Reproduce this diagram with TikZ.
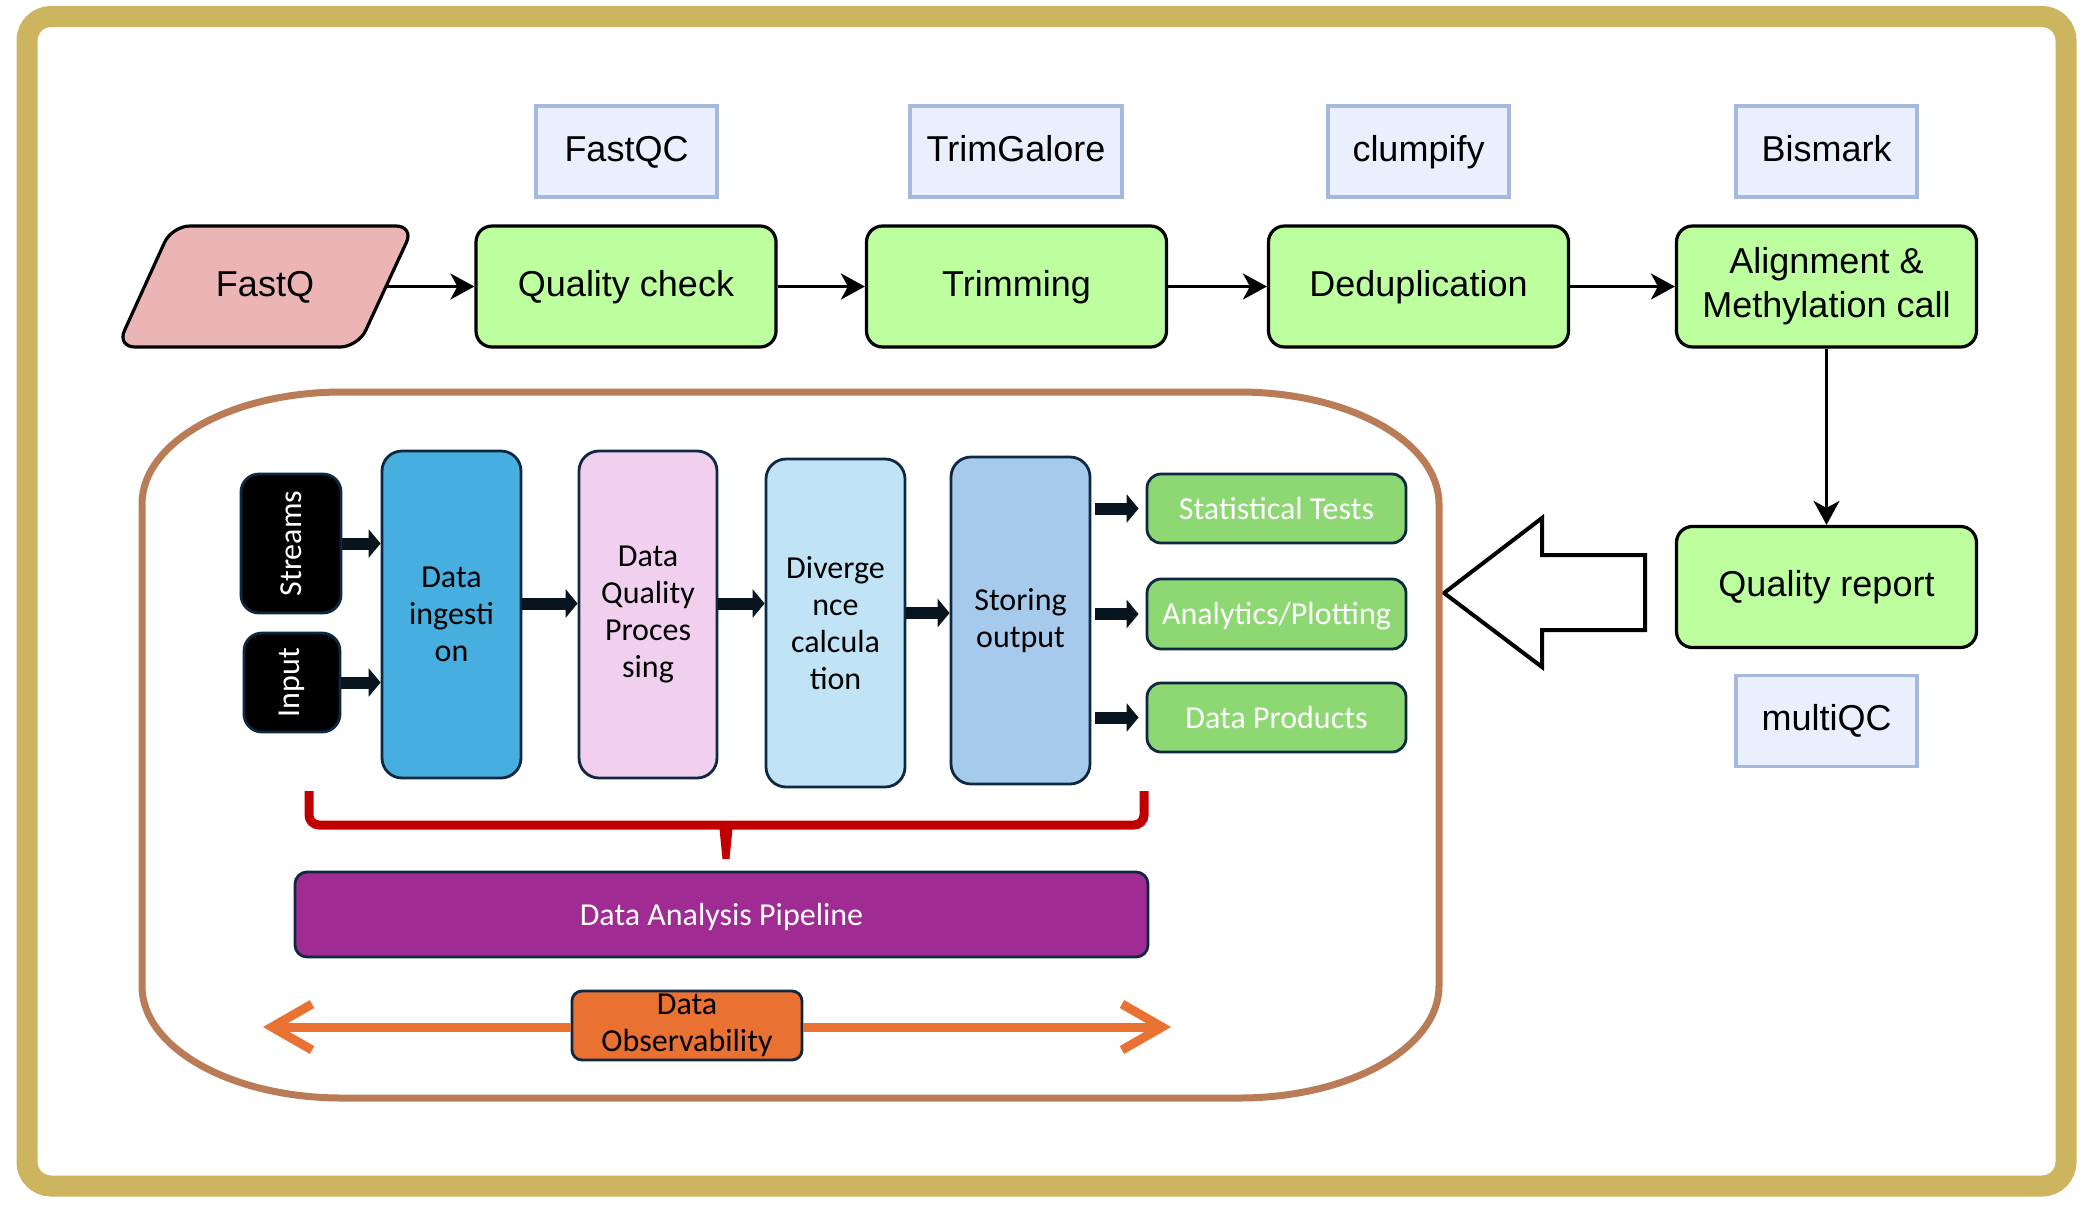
\documentclass[tikz,border=0pt]{standalone}
\usepackage{fontspec}
\setmainfont{Liberation Sans}
\newfontfamily\calfont{Carlito}
\usetikzlibrary{arrows.meta}
\definecolor{goldc}{RGB}{205,180,95}
\definecolor{brownc}{RGB}{186,123,87}
\definecolor{toolfill}{RGB}{233,239,252}
\definecolor{tooldraw}{RGB}{166,184,220}
\definecolor{stagegreen}{RGB}{189,255,158}
\definecolor{fastqfill}{RGB}{236,181,181}
\definecolor{navy}{RGB}{14,40,65}
\definecolor{ingestc}{RGB}{71,175,223}
\definecolor{dqpc}{RGB}{241,207,238}
\definecolor{divc}{RGB}{192,228,245}
\definecolor{storc}{RGB}{166,202,236}
\definecolor{outgreen}{RGB}{142,216,115}
\definecolor{purplec}{RGB}{160,43,147}
\definecolor{orangec}{RGB}{233,113,50}
\definecolor{bracered}{RGB}{192,0,0}
\definecolor{blkarrow}{RGB}{8,20,30}
\begin{document}
\begin{tikzpicture}[x=0.5pt,y=-0.5pt,
  toolbox/.style={draw=tooldraw, fill=toolfill, line width=1.6pt, minimum height=45.5pt, inner sep=0pt, text height=13pt, text depth=3.5pt, font=\fontsize{18pt}{22pt}\selectfont},
  stagebox/.style={draw=black, fill=stagegreen, line width=1.6pt, rounded corners=8pt, minimum width=150pt, minimum height=60.5pt, inner sep=0pt, align=center, font=\fontsize{18pt}{22pt}\selectfont},
  flow/.style={-{Stealth[length=12pt,width=13pt,inset=3.5pt]}, line width=1.4pt},
  tallbox/.style={draw=navy, line width=1.4pt, rounded corners=10pt, minimum width=69.5pt, minimum height=163.5pt, inner sep=0pt, align=center, font=\calfont\fontsize{16pt}{18.5pt}\selectfont},
  darkbox/.style={draw=navy, fill=black, text=white, line width=1.4pt, rounded corners=9pt, rotate=90, inner sep=0pt, font=\calfont\fontsize{16pt}{18.5pt}\selectfont},
  outbox/.style={draw=navy, fill=outgreen, text=white, line width=1.4pt, rounded corners=7pt, minimum width=129.5pt, minimum height=34.5pt, inner sep=0pt, text height=12.5pt, text depth=2pt, font=\calfont\fontsize{16pt}{18.5pt}\selectfont},
  blk/.style={draw=blkarrow, line width=6pt, -{Triangle[length=6pt,width=14pt]}},
  obsarrow/.style={draw=orangec, line width=4.5pt, -{Straight Barb[length=20pt,width=23pt]}}
]
\useasboundingbox (0,0) rectangle (2086,1211);
\fill[white] (0,0) rectangle (2086,1211);
% outer gold frame
\draw[goldc, line width=10.5pt, rounded corners=12pt] (27,16.5) rectangle (2066,1186);

% tool boxes
\node[toolbox, minimum width=90.5pt] (fastqc) at (626.5,151.5) {FastQC};
\node[toolbox, minimum width=106pt] (trimgalore) at (1016,151.5) {TrimGalore};
\node[toolbox, minimum width=90.5pt] (clumpify) at (1418.5,151.5) {clumpify};
\node[toolbox, minimum width=90.5pt] (bismark) at (1826.5,151.5) {Bismark};
\node[toolbox, minimum width=90.5pt] (multiqc) at (1826.5,721) {multiQC};

% FastQ parallelogram
\draw[fill=fastqfill, line width=1.6pt, rounded corners=9pt] (172,226) -- (414,226) -- (358,347) -- (117,347) -- cycle;
\node[font=\fontsize{18pt}{22pt}\selectfont, text height=13pt, text depth=3.5pt, inner sep=0pt] (fastq) at (265,286.5) {FastQ};
\coordinate (fastqR) at (386,286.5);

% stage boxes
\node[stagebox, text height=13pt, text depth=3.5pt] (qc) at (626,286.5) {Quality check};
\node[stagebox, text height=13pt, text depth=3.5pt] (trim) at (1016.5,286.5) {Trimming};
\node[stagebox, text height=13pt, text depth=3.5pt] (dedup) at (1418.5,286.5) {Deduplication};
\node[stagebox] (align) at (1826.5,286.5) {Alignment \&\\Methylation call};
\node[stagebox, text height=13pt, text depth=3.5pt] (qreport) at (1826.5,587) {Quality report};

\draw[flow] (fastqR) -- (qc.west);
\draw[flow] (qc.east) -- (trim.west);
\draw[flow] (trim.east) -- (dedup.west);
\draw[flow] (dedup.east) -- (align.west);
\draw[flow] (align.south) -- (qreport.north);

% hollow arrow
\draw[line width=2pt, fill=white] (1444,593) -- (1542,518) -- (1542,555) -- (1645,555) -- (1645,630) -- (1542,630) -- (1542,667) -- cycle;

% brown container
\draw[brownc, line width=3.5pt] (342,392) -- (1239,392)
  arc[start angle=-90, end angle=0, x radius=200, y radius=112] -- (1439,986)
  arc[start angle=0, end angle=90, x radius=200, y radius=112] -- (342,1098)
  arc[start angle=90, end angle=180, x radius=200, y radius=112] -- (142,504)
  arc[start angle=180, end angle=270, x radius=200, y radius=112] -- cycle;

% inner pipeline
\node[darkbox, minimum width=69.5pt, minimum height=50pt] (streams) at (291,543.5) {Streams};
\node[darkbox, minimum width=49.5pt, minimum height=48pt] (input) at (292,682.5) {Input};
\node[tallbox, fill=ingestc] (ingest) at (451.5,614.5) {Data\\ingesti\\on};
\node[tallbox, fill=dqpc, minimum width=69pt] (dqp) at (648,614.5) {Data\\Quality\\Proces\\sing};
\node[tallbox, fill=divc, minimum height=164pt] (div) at (835.5,623) {Diverge\\nce\\calcula\\tion};
\node[tallbox, fill=storc] (stor) at (1020.5,620.5) {Storing\\output};
\node[outbox] (stat) at (1276.5,508.5) {Statistical Tests};
\node[outbox, minimum height=35pt] (anal) at (1276.5,614) {Analytics/Plotting};
\node[outbox] (prod) at (1276.5,717.5) {Data Products};

\draw[blk] (streams.south) -- (streams.south -| ingest.west);
\draw[blk] (input.south) -- (input.south -| ingest.west);
\draw[blk] ([yshift=5.5pt]ingest.east) -- ([yshift=5.5pt]dqp.west);
\draw[blk] ([yshift=5.5pt]dqp.east) -- ([yshift=5.5pt]dqp.east -| div.west);
\draw[blk] ([yshift=5pt]div.east) -- ([yshift=5pt]div.east -| stor.west);
\draw[blk, shorten <=2pt, shorten >=3.5pt] (stat.west -| stor.east) -- (stat.west);
\draw[blk, shorten <=2pt, shorten >=3.5pt] (anal.west -| stor.east) -- (anal.west);
\draw[blk, shorten <=2pt, shorten >=3.5pt] (prod.west -| stor.east) -- (prod.west);

% red brace
\draw[bracered, line width=4.5pt, rounded corners=5pt] (309,791) -- (309,825) -- (1144,825) -- (1144,791);
\fill[bracered] (719,824) -- (733,824) -- (729.5,859) -- (722.5,859) -- cycle;

\node[draw=navy, fill=purplec, text=white, line width=1.4pt, rounded corners=6pt, minimum width=426.5pt, minimum height=42.5pt, inner sep=0pt, text height=12.5pt, text depth=2pt, font=\calfont\fontsize{16pt}{18.5pt}\selectfont] (dap) at (721.5,914.5) {Data Analysis Pipeline};

% observability
\coordinate (obsL) at (263,1027);
\coordinate (obsR) at (1171,1027);
\node[draw=navy, fill=orangec, line width=1.4pt, rounded corners=5pt, minimum width=115pt, minimum height=34.5pt, inner sep=0pt, align=center, font=\calfont\fontsize{16pt}{18.5pt}\selectfont] (obs) at (687,1025.5) {Data\\Observability};
\draw[obsarrow] (obs.west |- obsL) -- (obsL);
\draw[obsarrow] (obs.east |- obsR) -- (obsR);
\end{tikzpicture}
\end{document}
